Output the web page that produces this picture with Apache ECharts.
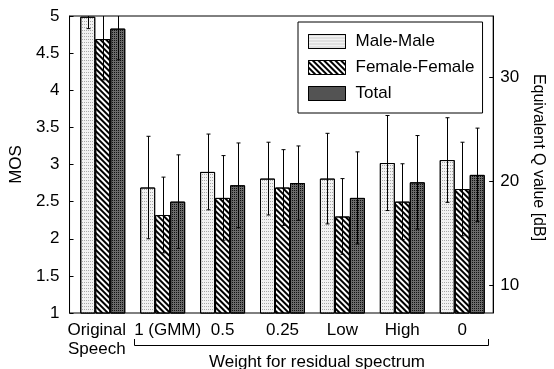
<!DOCTYPE html>
<html>
<head>
<meta charset="utf-8">
<script src="https://cdn.jsdelivr.net/npm/echarts@6/dist/echarts.min.js"></script>
<style>
html, body { margin: 0; padding: 0; background: #fff; }
#chart { width: 554px; height: 369px; }
</style>
</head>
<body>
<div id="chart"></div>
<script>
var categories = ['Original\nSpeech', '1 (GMM)', '0.5', '0.25', 'Low', 'High', '0'];
var seriesNames = ['Male-Male', 'Female-Female', 'Total'];
// mean MOS per condition
var maleMos = [4.99, 2.69, 2.90, 2.81, 2.81, 3.02, 3.06];
var femaleMos = [4.69, 2.32, 2.55, 2.69, 2.30, 2.50, 2.67];
var totalMos = [4.83, 2.50, 2.72, 2.75, 2.55, 2.76, 2.86];
// standard deviations (error bars)
var maleSd = [0.16, 0.69, 0.51, 0.49, 0.61, 0.64, 0.57];
var femaleSd = [0.55, 0.51, 0.57, 0.51, 0.51, 0.51, 0.63];
var totalSd = [0.42, 0.63, 0.57, 0.50, 0.62, 0.63, 0.63];
var qTicks = [10, 20, 30];

var font = "'Liberation Sans', Arial, sans-serif";
var fs = 17;
var barW = 15;

var decals = [
	{ symbol: 'rect', symbolSize: 1, dashArrayX: [1, 1], dashArrayY: [1, 2], color: '#a8a8a8', rotation: 0 },
	{ symbol: 'rect', symbolSize: 1, dashArrayX: [1, 0], dashArrayY: [2, 2], color: '#000', rotation: Math.PI / 4 },
	{ symbol: 'rect', symbolSize: 1, dashArrayX: [1, 1], dashArrayY: [1, 1], color: '#111', rotation: 0 }
];
var fills = ['#f2f2f2', '#ffffff', '#6a6a6a'];
var means = [maleMos, femaleMos, totalMos];
var sds = [maleSd, femaleSd, totalSd];

function errData(m, s) {
	var out = [];
	for (var i = 0; i < m.length; i++) {
		out.push([i, m[i], s[i]]);
	}
	return out;
}

function errRender(k) {
	return function(params, api) {
		var c = api.value(0), m = api.value(1), s = api.value(2);
		var hi = api.coord([c, m + s]);
		var lo = api.coord([c, m - s]);
		var x = Math.round(hi[0] + (k - 1) * barW) + 0.5;
		var st = { stroke: '#000', lineWidth: 1 };
		return {
			type: 'group',
			children: [
				{ type: 'line', shape: { x1: x, y1: hi[1], x2: x, y2: lo[1] }, style: st },
				{ type: 'line', shape: { x1: x - 2, y1: hi[1], x2: x + 2, y2: hi[1] }, style: st },
				{ type: 'line', shape: { x1: x - 2, y1: lo[1], x2: x + 2, y2: lo[1] }, style: st }
			]
		};
	};
}

var catData = categories.map(function(c, i) {
	if (i == 0) return { value: c, textStyle: { padding: [0, 12, 0, 0] } };
	if (i == 1) return { value: c, textStyle: { padding: [0, 0, 0, 10] } };
	return c;
});

var series = [];
for (var k = 0; k < 3; k++) {
	series.push({
		name: seriesNames[k],
		type: 'bar',
		xAxisIndex: 1,
		yAxisIndex: 2,
		barWidth: barW,
		barGap: '0%',
		data: means[k],
		itemStyle: {
			color: fills[k],
			borderColor: '#000',
			borderWidth: 1,
			decal: decals[k]
		},
		emphasis: { disabled: true },
		animation: false
	});
}
for (var k = 0; k < 3; k++) {
	series.push({
		type: 'custom',
		xAxisIndex: 1,
		yAxisIndex: 2,
		clip: true,
		renderItem: errRender(k),
		encode: { x: 0, y: 1 },
		data: errData(means[k], sds[k]),
		z: 5,
		animation: false
	});
}

var chart = echarts.init(document.getElementById('chart'));
var option = {
	animation: false,
	textStyle: { fontFamily: font },
	grid: [
		{ left: 65, right: 55, top: 16, bottom: 56, show: true, borderColor: '#000', borderWidth: 1, backgroundColor: 'transparent' },
		{ left: 72.8, right: 61.8, top: 16, bottom: 56 }
	],
	legend: {
		data: seriesNames,
		orient: 'vertical',
		left: 298,
		top: 22,
		padding: [11, 8, 11, 10],
		itemWidth: 37,
		itemHeight: 14,
		itemGap: 9,
		icon: 'rect',
		backgroundColor: '#fff',
		borderColor: '#000',
		borderWidth: 1,
		borderRadius: 0,
		textStyle: { fontFamily: font, fontSize: fs, color: '#000', padding: [0, 0, 0, 5] },
		itemStyle: { borderColor: '#000', borderWidth: 1 }
	},
	xAxis: [
		{ gridIndex: 0, type: 'value', show: false, min: 0, max: 1 },
		{
			gridIndex: 1,
			type: 'category',
			data: catData,
			axisLine: { show: false },
			axisTick: { show: false },
			axisLabel: { interval: 0, margin: 8, fontFamily: font, fontSize: fs, color: '#000', lineHeight: 19 }
		}
	],
	yAxis: [
		{
			gridIndex: 0,
			type: 'value',
			position: 'left',
			min: 1,
			max: 5,
			interval: 0.5,
			name: 'MOS',
			nameLocation: 'middle',
			nameGap: 34,
			nameTextStyle: { fontFamily: font, fontSize: fs, color: '#000' },
			axisLine: { show: true, lineStyle: { color: '#000' } },
			axisTick: { show: true, inside: true, length: 4, lineStyle: { color: '#000' } },
			axisLabel: { margin: 10, fontFamily: font, fontSize: fs, color: '#000' },
			splitLine: { show: false }
		},
		{
			gridIndex: 0,
			type: 'value',
			position: 'right',
			min: 7.3,
			max: 35.9,
			name: 'Equivalent Q value [dB]',
			nameLocation: 'middle',
			nameRotate: -90,
			nameGap: 32,
			nameTextStyle: { fontFamily: font, fontSize: 16, color: '#000', padding: [0, 14, 0, 0] },
			axisLine: { show: true, lineStyle: { color: '#000' } },
			axisTick: { show: true, inside: true, length: 4, customValues: qTicks, lineStyle: { color: '#000' } },
			axisLabel: { margin: 7, customValues: qTicks, fontFamily: font, fontSize: fs, color: '#000' },
			splitLine: { show: false }
		},
		{ gridIndex: 1, type: 'value', min: 1, max: 5, show: false }
	],
	graphic: [
		{
			type: 'polyline',
			shape: { points: [[134.5, 339], [134.5, 345.5], [488.5, 345.5], [488.5, 339]] },
			style: { stroke: '#000', lineWidth: 1, fill: null }
		},
		{
			type: 'text',
			x: 317,
			y: 362,
			style: { text: 'Weight for residual spectrum', fontFamily: font, fontSize: fs, fill: '#000', align: 'center', verticalAlign: 'middle' }
		}
	],
	series: series
};
chart.setOption(option);
</script>
</body>
</html>
